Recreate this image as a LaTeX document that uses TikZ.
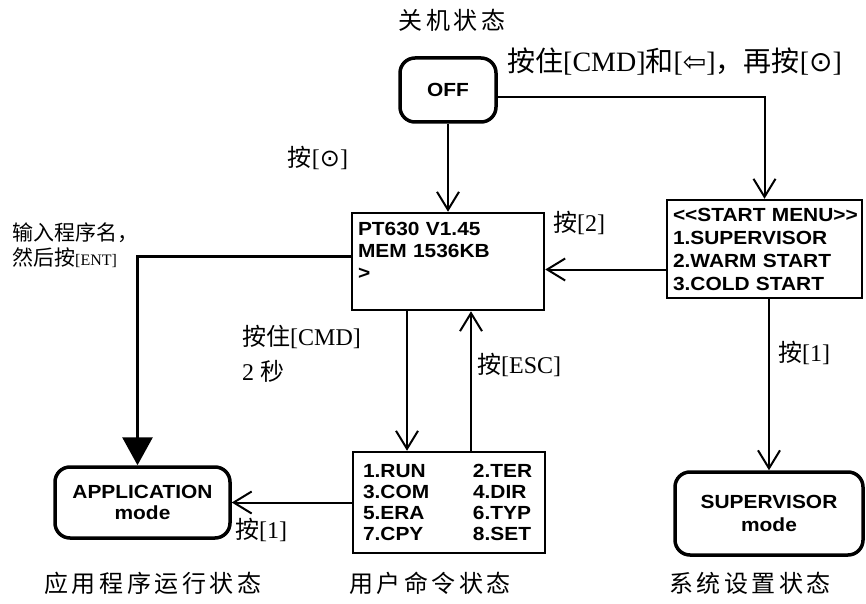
\documentclass[tikz,border=0pt]{standalone}
\usepackage{fontspec}
\setmainfont{Liberation Serif}
\setsansfont[FakeStretch=1.1]{Liberation Sans}
\newfontfamily\cjk{Noto Sans CJK SC}
\newfontfamily\cjkcap[LetterSpace=15]{Noto Sans CJK SC}
\newfontfamily\sym{DejaVu Sans}
\usetikzlibrary{arrows.meta}
\newcommand{\zh}[1]{{\cjk #1}}
\newcommand{\boxfont}[1]{\sffamily\bfseries\fontsize{19}{#1}\selectfont}

\begin{document}
\begin{tikzpicture}[x=1pt,y=-1pt,
		modebox/.style={draw,rounded corners=15pt,line width=3.5pt,align=center,font=\boxfont{22}},
		scrbox/.style={draw,line width=2.5pt,align=left,inner xsep=6pt,font=\boxfont{22}},
		lbl/.style={font=\fontsize{24}{28}\selectfont,inner sep=0pt},
		stateline/.style={font=\cjkcap\fontsize{24}{28}\selectfont,inner sep=0pt},
		arr/.style={line width=2pt,-{Straight Barb[length=18pt,width=22pt,line width=2pt]}}]
			\fill[white] (0,0) rectangle (866,604);
			\node[modebox,minimum width=96pt,minimum height=64pt] (off) at (448,90) {OFF};
			\node[scrbox,text width=180pt,minimum height=97pt] (pt) at (448,261.5) {PT630 V1.45\\MEM 1536KB\\>\\\mbox{}};
			\node[scrbox,text width=183pt,minimum height=98pt,font=\boxfont{23}] (start) at (764.5,249) {\mbox{<{}<START MENU>{}>}\\1.SUPERVISOR\\2.WARM START\\3.COLD START};
			\node[scrbox,inner xsep=10pt,text width=172pt,minimum height=101pt,font=\boxfont{21}] (cmd) at (449,502.5) {\makebox[110pt][l]{1.RUN}2.TER\\\makebox[110pt][l]{3.COM}4.DIR\\\makebox[110pt][l]{5.ERA}6.TYP\\\makebox[110pt][l]{7.CPY}8.SET};
			\node[modebox,minimum width=175pt,minimum height=71pt,font=\boxfont{21}] (app) at (142.5,502.5) {APPLICATION\\mode};
			\node[modebox,minimum width=188pt,minimum height=83pt,font=\boxfont{23}] (sup) at (769,513.5) {SUPERVISOR\\mode};
			\coordinate (ptin) at ([yshift=-8pt]pt.east);
			\draw[arr] (off.south) -- (pt.north);
			\draw[arr] ([yshift=-7pt]off.east) -| (start.north);
			\draw[arr] (start.west |- ptin) -- (ptin);
			\draw[arr] (sup.north |- start.south) -- (sup.north);
			\draw[arr] ([xshift=-41pt]pt.south) -- ([xshift=-41pt]pt.south |- cmd.north);
			\draw[arr] ([xshift=22pt]cmd.north) -- ([xshift=22pt]cmd.north |- pt.south);
			\draw[arr] (cmd.west) -- (app.east);
			\draw[line width=3pt,-{Triangle[length=28pt,width=30pt]}] ([yshift=5pt]pt.west) -| ([xshift=-5pt]app.north);
			\node[stateline] (offcap) at (452,20) {关机状态};
			\node[lbl,anchor=west,font=\fontsize{28}{30}\selectfont] (offlbl) at (507,62) {\zh{按住}[CMD]\zh{和}[{\sym ⇦}]\zh{，再按}[{\sym ⊙}]};
			\node[lbl] (onlbl) at (318,158) {\zh{按}[{\sym ⊙}]};
			\node[lbl,anchor=west] (warmlbl) at (553,223) {\zh{按}[2]};
			\node[lbl,anchor=west,align=left,font=\fontsize{21}{25}\selectfont] (entlbl) at (12,245) {\zh{输入程序名，}\\\zh{然后按}{\fontsize{16}{16}\selectfont[ENT]}};
			\node[lbl,anchor=west,align=left,font=\fontsize{24}{35}\selectfont] (cmdlbl) at (242,354) {\zh{按住}[CMD]\\2 \zh{秒}};
			\node[lbl,anchor=west] (esclbl) at (477,365) {\zh{按}[ESC]};
			\node[lbl,anchor=west] (suplbl) at (778,353) {\zh{按}[1]};
			\node[lbl,anchor=west] (applbl) at (235,530) {\zh{按}[1]};
			\node[stateline] (appcap) at (153,583) {应用程序运行状态};
			\node[stateline] (cmdcap) at (430,583) {用户命令状态};
			\node[stateline] (supcap) at (750,583) {系统设置状态};
\end{tikzpicture}
\end{document}
